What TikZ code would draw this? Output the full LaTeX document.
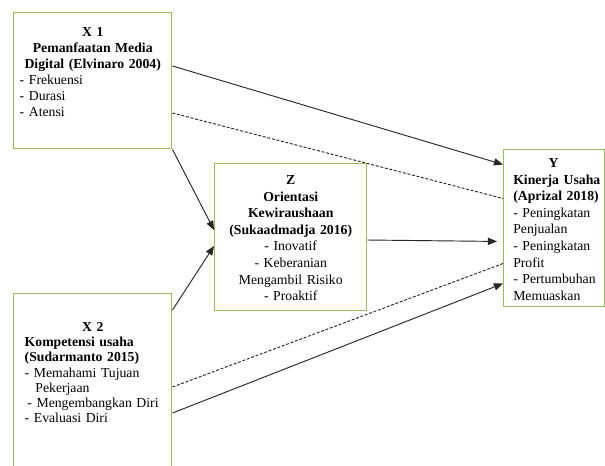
\documentclass[tikz,border=0pt]{standalone}
\usepackage{fontspec}
\setmainfont{Liberation Serif}
\usetikzlibrary{arrows.meta,calc}
\definecolor{boxgreen}{RGB}{155,187,89}
\tikzset{
  varbox/.style={draw=boxgreen, line width=1.1pt, anchor=north west, inner sep=0pt},
  vartext/.style={inner sep=0pt, font=\fontsize{10.3}{#1}\selectfont},
  link/.style={draw=black!85, line width=0.7pt},
  dashlink/.style={link, dash pattern=on 2.2pt off 1.3pt},
  arr/.style={-{Triangle[length=6.8pt,width=5.4pt]}},
}
\begin{document}
\begin{tikzpicture}[x=0.75pt, y=-0.75pt]
    \useasboundingbox (0,0) rectangle (605,465);
    \clip (0,0) rectangle (605,465);

    % boxes
    \node[varbox, minimum width=118.5pt, minimum height=102pt] (x1) at (13,12) {};
    \node[varbox, minimum width=118.5pt, minimum height=150pt] (x2) at (13,293) {};
    \node[varbox, minimum width=114pt, minimum height=110.25pt] (z) at (214,163) {};
    \node[varbox, minimum width=75.75pt, minimum height=118pt] (y) at (503,148.5) {};

    % texts
    \node[vartext=12pt, anchor=base, text width=109.5pt, align=left] (x1t) at ($(x1.north)+(0,24.5)$)
        {{\centering\bfseries X 1\\ Pemanfaatan Media\\ Digital (Elvinaro 2004)\par}
         - Frekuensi\\ - Durasi\\ - Atensi};
    \node[vartext=11.4pt, anchor=base, text width=102pt, align=left] (x2t) at ($(x2.north)+(0,38.5)$)
        {{\centering\bfseries X 2\par}
         {\bfseries Kompetensi usaha\\ (Sudarmanto 2015)\par}
         - Memahami Tujuan\\ \hspace*{8pt}Pekerjaan\\ \hspace*{2pt}- Mengembangkan Diri\\ - Evaluasi Diri};
    \node[vartext=12.45pt, anchor=base, text width=111pt, align=center] (zt) at ($(z.north)+(0,21.5)$)
        {{\bfseries Z\\ Orientasi\\ Kewiraushaan\\ (Sukaadmadja 2016)\par}
         - Inovatif\\ - Keberanian\\ Mengambil Risiko\\ - Proaktif};
    \node[vartext=12.45pt, anchor=base west, text width=70pt, align=left] (yt) at ($(y.north west)+(10,19)$)
        {\hspace*{26.5pt}\textbf{Y}\\ \textbf{Kinerja Usaha}\\ \textbf{(Aprizal 2018)}\\ - Peningkatan\\ Penjualan\\
         - Peningkatan\\ Profit\\ - Pertumbuhan\\ Memuaskan};

    % connectors
    \draw[link, arr] ($(x1.north east)+(0,54)$) -- ($(y.north west)+(0,16)$);
    \draw[dashlink] ($(x1.north east)+(0,101)$) -- ($(y.north west)+(0,50)$);
    \draw[link, arr] (x1.south east) -- ($(z.north west)+(0,67)$);
    \draw[link, arr] ($(x2.north east)+(0,17)$) -- ($(z.north west)+(0,83)$);
    \draw[link, arr, shorten >=4.5pt] ($(z.north east)+(0,77)$) -- ($(y.north west)+(0,93)$);
    \draw[dashlink] ($(x2.north east)+(0,94)$) -- ($(y.north west)+(0,115)$);
    \draw[link, arr] ($(x2.north east)+(0,120)$) -- ($(y.north west)+(0,135)$);
\end{tikzpicture}
\end{document}
